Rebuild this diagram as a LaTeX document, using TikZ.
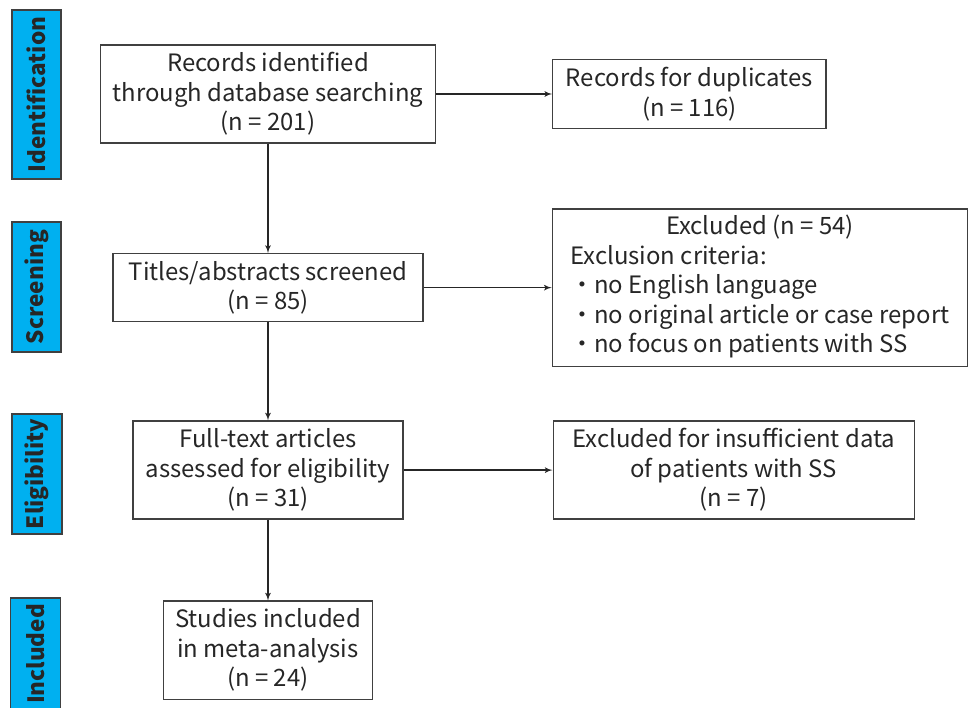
\documentclass[tikz,border=0pt]{standalone}
\usepackage{fontspec}
\setmainfont{Noto Sans CJK JP}
\usetikzlibrary{arrows,positioning}
\definecolor{stageblue}{HTML}{00B0F0}
\definecolor{boxgray}{HTML}{404040}
\definecolor{txtgray}{HTML}{262626}
\tikzset{
    block/.style = {draw=boxgray, rectangle, line width=0.9pt,
        inner sep=0pt, align=center, text=txtgray,
        font=\fontsize{17}{21}\selectfont},
    stage/.style = {draw=boxgray, fill=stageblue, rectangle, line width=0.9pt,
        rotate=90, inner sep=0pt, text=txtgray,
        font=\fontsize{16}{19}\selectfont\bfseries},
    arrow/.style = {draw=txtgray, line width=0.9pt, ->}
}

\begin{document}
\begin{tikzpicture}[auto, x=0.025cm, y=-0.025cm, >=latex']
    \useasboundingbox (0,0) rectangle (968,708);
    \clip (0,0) rectangle (968,708);
    \node [stage, minimum width=4.225cm, minimum height=1.225cm] (sid) at (36.5,94.5) {Identification};
    \node [stage, minimum width=3.25cm, minimum height=1.225cm] (sscr) at (36.5,287) {Screening};
    \node [stage, minimum width=3cm, minimum height=1.25cm] (selig) at (37,474) {Eligibility};
    \node [stage, minimum width=2.8cm, minimum height=1.25cm] (sincl) at (35.5,654) {Included};
    \node [block, minimum width=8.375cm, minimum height=2.45cm] (rec) at (268,94)
        {Records identified\\through database searching\\(n = 201)};
    \node [block, minimum width=7.75cm, minimum height=1.7cm, below of=rec, node distance=4.84cm] (titles)
        {Titles/abstracts screened\\(n = 85)};
    \node [block, minimum width=6.75cm, minimum height=2.45cm, below of=titles, node distance=4.56cm] (full)
        {Full-text articles\\assessed for eligibility\\(n = 31)};
    \node [block, minimum width=5.225cm, minimum height=2.45cm, below of=full, node distance=4.5cm] (studies)
        {Studies included\\in meta-analysis\\(n = 24)};
    \node [block, minimum width=6.825cm, minimum height=1.725cm, right=2.9cm of rec] (dup)
        {Records for duplicates\\(n = 116)};
    \node [block, minimum width=10.375cm, minimum height=3.925cm, right=3.2cm of titles] (excl)
        {\begin{tabular}{@{}l@{}}
        \multicolumn{1}{@{}c@{}}{Excluded (n = 54)}\\
        Exclusion criteria:\\
        ・no English language\\
        ・no original article or case report\\
        ・no focus on patients with SS
        \end{tabular}};
    \node [block, minimum width=9.025cm, minimum height=2.45cm, right=3.72cm of full] (insuf)
        {Excluded for insufficient data\\of patients with SS\\(n = 7)};
    \draw[arrow] (rec) -- (titles);
    \draw[arrow] (titles) -- (full);
    \draw[arrow] (full) -- (studies);
    \draw[arrow] (rec) -- (dup);
    \draw[arrow] (titles) -- (excl);
    \draw[arrow] (full) -- (insuf);
\end{tikzpicture}
\end{document}
